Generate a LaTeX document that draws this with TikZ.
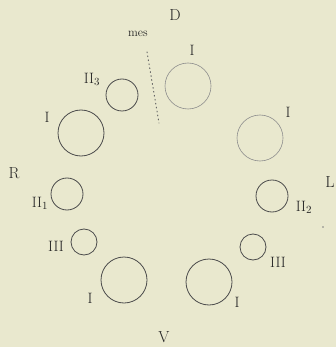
\documentclass[tikz,border=0pt]{standalone}
\begin{document}
\begin{tikzpicture}[x=1pt,y=-1pt,
  ring/.style={draw=black!70,line width=0.8pt,circle,inner sep=0pt},
  faint/.style={draw=black!45,line width=0.6pt,circle,inner sep=0pt},
  lab/.style={text=black!85,inner sep=0pt,font=\fontsize{15}{15}\selectfont},
  biglab/.style={text=black!85,inner sep=0pt,font=\fontsize{16}{16}\selectfont}]
\fill[fill={rgb,255:red,233;green,232;blue,206}] (0,0) rectangle (336,347);
\clip (0,0) rectangle (336,347);
\useasboundingbox (0,0) rectangle (336,347);
% circles
\node[faint,minimum size=46pt] (t1) at (188,86) {};
\node[ring,minimum size=32pt] (c3) at (122,95) {};
\node[ring,minimum size=46pt] (l1) at (81,133) {};
\node[faint,minimum size=46pt] (r1) at (260,138) {};
\node[ring,minimum size=32pt] (c1) at (67,194) {};
\node[ring,minimum size=32pt] (c2) at (272,196) {};
\node[ring,minimum size=26pt] (lb3) at (84,242) {};
\node[ring,minimum size=26pt] (rb3) at (253,247) {};
\node[ring,minimum size=46pt] (lb1) at (124,280) {};
\node[ring,minimum size=46pt] (rb1) at (209,282) {};
% labels
\node[biglab] (D) at (175,15) {D};
\node[biglab] (R) at (14,173) {R};
\node[biglab] (L) at (330,182) {L};
\node[biglab] (V) at (164,337) {V};
\node[lab,font=\fontsize{12}{12}\selectfont] (mes) at (138,34) {mes};
\node[lab] (tI) at (192,50) {I};
\node[lab] (lI) at (47,117) {I};
\node[lab] (rI) at (288,112) {I};
\node[lab] (lbI) at (90,298) {I};
\node[lab] (rbI) at (237,302) {I};
\node[lab] (II3) at (92,79) {II$_3$};
\node[lab] (II1) at (40,203) {II$_1$};
\node[lab] (II2) at (304,207) {II$_2$};
\node[lab] (III1) at (56,246) {III};
\node[lab] (III2) at (278,262) {III};
% dotted line
\coordinate (m1) at (147,52);
\coordinate (m2) at (159,123);
\draw[black!60,line width=1pt,dash pattern=on 0.8pt off 3.2pt,line cap=round] (m1) -- (m2);
% speck
\fill[black!50] (323,227) circle (0.8pt);
\end{tikzpicture}
\end{document}
